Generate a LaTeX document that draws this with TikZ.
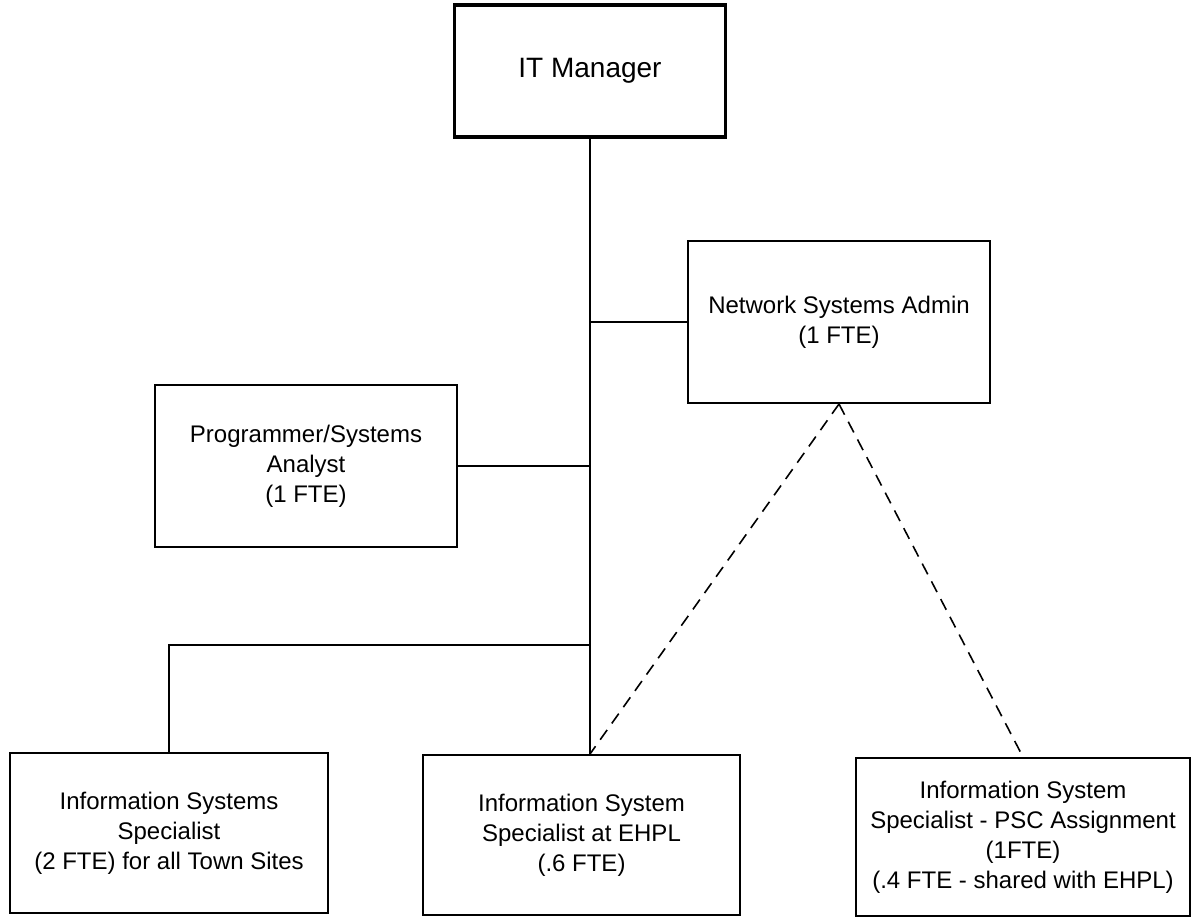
\documentclass[tikz,border=0pt]{standalone}
\usepackage{fontspec}
\setmainfont{Liberation Sans}
\tikzset{post/.style={draw, black, line width=1pt, align=center, inner sep=0pt,
    font=\fontsize{12}{15}\selectfont}}

\begin{document}
\begin{tikzpicture}[x=0.5pt, y=-0.5pt]
      \useasboundingbox (0,0) rectangle (1192,917);
      \node[post, line width=1.6pt, minimum width=135.5pt, minimum height=66pt,
        font=\fontsize{14}{17}\selectfont] (itm) at (590,71) {IT Manager};
      \node[post, minimum width=151pt, minimum height=81pt] (net) at (839,322)
        {Network Systems Admin\\(1 FTE)};
      \node[post, minimum width=151pt, minimum height=81pt] (prog) at (306,466)
        {Programmer/Systems\\Analyst\\(1 FTE)};
      \node[post, minimum width=159pt, minimum height=80pt] (iss) at (169,833)
        {Information Systems\\Specialist\\(2 FTE) for all Town Sites};
      \node[post, minimum width=158.5pt, minimum height=80pt] (ehpl) at (581.5,835)
        {Information System\\Specialist at EHPL\\(.6 FTE)};
      \node[post, minimum width=167pt, minimum height=79pt] (psc) at (1023,837)
        {Information System\\Specialist - PSC Assignment\\(1FTE)\\(.4 FTE - shared with EHPL)};
      \coordinate (hub) at (itm.south |- ehpl.north);
      \coordinate (split) at (itm.south |- 0,645);
      \draw[line width=1.2pt] (itm.south) -- (hub);
      \draw[line width=1.2pt] (itm.south |- net.west) -- (net.west);
      \draw[line width=1.2pt] (itm.south |- prog.east) -- (prog.east);
      \draw[line width=1.2pt] (split) -| (iss.north);
      \draw[line width=0.8pt, dash pattern=on 6pt off 4pt] (net.south) -- (hub);
      \draw[line width=0.8pt, dash pattern=on 6pt off 4pt] (net.south) -- (psc.north);
    \end{tikzpicture}
\end{document}
